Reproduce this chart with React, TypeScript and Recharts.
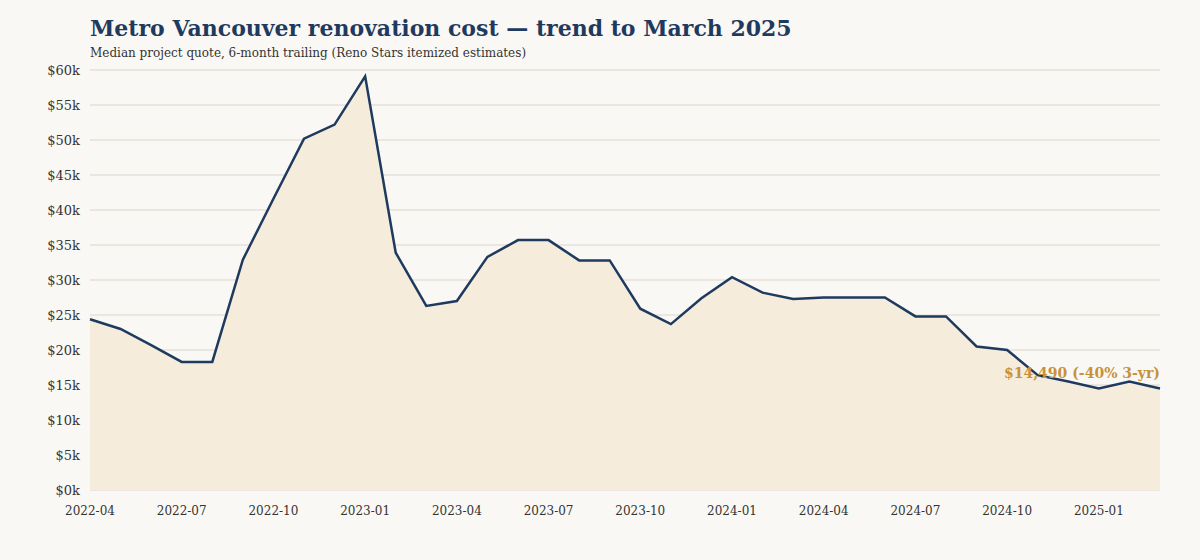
import React from 'react';
import {
  AreaChart,
  Area,
  XAxis,
  YAxis,
  CartesianGrid,
  LabelList
} from 'recharts';

const months = [
  '2022-04', '2022-05', '2022-06', '2022-07', '2022-08', '2022-09',
  '2022-10', '2022-11', '2022-12', '2023-01', '2023-02', '2023-03',
  '2023-04', '2023-05', '2023-06', '2023-07', '2023-08', '2023-09',
  '2023-10', '2023-11', '2023-12', '2024-01', '2024-02', '2024-03',
  '2024-04', '2024-05', '2024-06', '2024-07', '2024-08', '2024-09',
  '2024-10', '2024-11', '2024-12', '2025-01', '2025-02', '2025-03'
];

const medianQuote = [
  24400, 23000, 20700, 18300, 18300, 32900,
  41600, 50200, 52200, 59100, 33900, 26300,
  27000, 33300, 35700, 35700, 32800, 32800,
  25900, 23700, 27400, 30400, 28200, 27300,
  27500, 27500, 27500, 24800, 24800, 20500,
  20000, 16400, 15500, 14500, 15500, 14490
];

const yTicks = [0, 5000, 10000, 15000, 20000, 25000, 30000, 35000, 40000, 45000, 50000, 55000, 60000];

const endLabel = '$14,490 (-40% 3-yr)';

const data = months.map((month, i) => ({ month, value: medianQuote[i] }));

const FONT = "Georgia, 'DejaVu Serif', serif";
const NAVY = '#1f3a5f';
const GOLD = '#c8913a';

// only the last point gets the annotation
const renderEndLabel = (props: any) => {
  const { x, y, index } = props;
  if (index !== data.length - 1) return null;
  return (
    <text
      x={x}
      y={y - 11}
      textAnchor="end"
      fill={GOLD}
      fontFamily={FONT}
      fontSize={14}
      fontWeight="bold"
    >
      {endLabel}
    </text>
  );
};

export default function App() {
  return (
    <div
      style={{
        position: 'absolute',
        top: 0,
        left: 0,
        width: 1200,
        height: 560,
        background: '#faf8f4',
        fontFamily: FONT
      }}
    >
      <div
        style={{
          position: 'absolute',
          left: 90,
          top: 15,
          fontSize: 22,
          fontWeight: 'bold',
          color: NAVY,
          whiteSpace: 'nowrap'
        }}
      >
        Metro Vancouver renovation cost — trend to March 2025
      </div>
      <div
        style={{
          position: 'absolute',
          left: 90,
          top: 46,
          fontSize: 12,
          color: '#333',
          whiteSpace: 'nowrap'
        }}
      >
        Median project quote, 6-month trailing (Reno Stars itemized estimates)
      </div>
      <div style={{ position: 'absolute', top: 0, left: 0 }}>
        <AreaChart
          width={1200}
          height={560}
          data={data}
          margin={{ top: 70, right: 40, bottom: 40, left: 0 }}
        >
          <CartesianGrid vertical={false} stroke="#e6e1d9" strokeWidth={1.5} />
          <XAxis
            dataKey="month"
            interval={2}
            axisLine={false}
            tickLine={false}
            tickSize={0}
            tickMargin={16}
            height={30}
            tick={{ fill: '#333', fontSize: 12, fontFamily: FONT }}
          />
          <YAxis
            domain={[0, 60000]}
            ticks={yTicks}
            width={90}
            axisLine={false}
            tickLine={false}
            tickSize={0}
            tickMargin={10}
            tickFormatter={(v: number) => `$${v / 1000}k`}
            tick={{ fill: '#333', fontSize: 13, fontFamily: FONT }}
          />
          <Area
            type="linear"
            dataKey="value"
            stroke={NAVY}
            strokeWidth={2.5}
            fill="#f5ecdc"
            fillOpacity={1}
            dot={false}
            activeDot={false}
            isAnimationActive={false}
          >
            <LabelList dataKey="value" content={renderEndLabel} />
          </Area>
        </AreaChart>
      </div>
    </div>
  );
}
